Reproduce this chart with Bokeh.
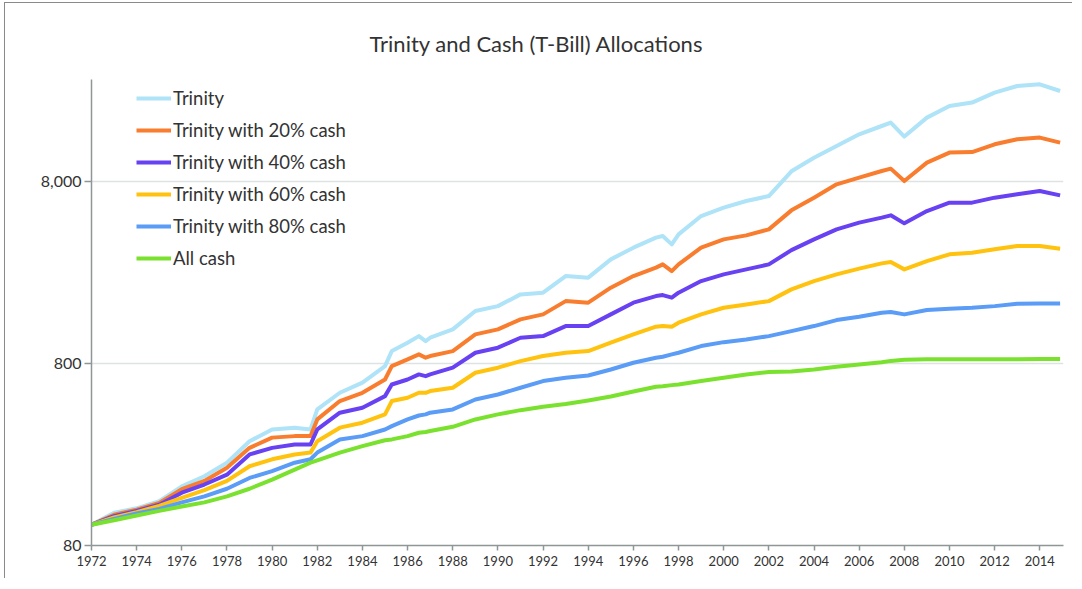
from bokeh.plotting import figure
from bokeh.models import FixedTicker, Range1d
from bokeh.embed import file_html
from bokeh.resources import INLINE

# ---- data ----
years = [1972, 1973, 1974, 1975, 1976, 1977, 1978, 1979, 1980, 1981, 1981.7,
         1982, 1983, 1984, 1985, 1985.3, 1986, 1986.5, 1986.8, 1987, 1988,
         1989, 1990, 1991, 1992, 1993, 1994, 1995, 1996, 1997, 1997.3, 1997.7,
         1998, 1999, 2000, 2001, 2002, 2003, 2004, 2005, 2006, 2007, 2007.4,
         2008, 2009, 2010, 2011, 2012, 2013, 2014, 2014.9]

trinity = [104, 121, 128, 140, 169, 192, 228, 299, 347, 355, 347,
           447, 552, 627, 773, 935, 1039, 1130, 1061, 1107, 1230,
           1551, 1651, 1915, 1957, 2414, 2366, 2983, 3458, 3925, 4005, 3605,
           4092, 5158, 5736, 6237, 6642, 9079, 10792, 12503, 14503, 16107, 16817,
           14091, 17911, 20746, 21655, 24573, 26709, 27296, 25081]

cash20 = [104, 118, 126, 137, 163, 181, 214, 275, 313, 319, 319,
          394, 497, 552, 653, 773, 842, 897, 860, 878, 935,
          1155, 1230, 1396, 1487, 1759, 1724, 2085, 2414, 2686, 2799, 2572,
          2799, 3458, 3841, 4040, 4359, 5543, 6509, 7702, 8384, 9114, 9393,
          8029, 10133, 11503, 11591, 12779, 13618, 13913, 13058]

cash40 = [104, 116, 124, 134, 156, 173, 196, 253, 275, 287, 287,
          347, 429, 457, 529, 613, 653, 696, 681, 696, 758,
          916, 976, 1107, 1130, 1283, 1283, 1487, 1724, 1875, 1898, 1837,
          1957, 2266, 2466, 2628, 2799, 3351, 3841, 4359, 4745, 5054, 5204,
          4703, 5495, 6110, 6110, 6509, 6787, 7077, 6701]

cash60 = [104, 114, 122, 132, 146, 161, 181, 218, 238, 253, 259,
          299, 355, 378, 420, 497, 518, 552, 552, 564, 588,
          711, 758, 824, 878, 916, 935, 1039, 1155, 1273, 1283, 1273,
          1339, 1487, 1618, 1687, 1759, 2041, 2266, 2466, 2651, 2835, 2882,
          2628, 2919, 3177, 3246, 3385, 3529, 3529, 3414]

cash80 = [104, 112, 120, 127, 138, 149, 164, 188, 205, 228, 238,
          259, 306, 319, 347, 362, 394, 414, 420, 429, 447,
          507, 540, 588, 640, 668, 687, 741, 807, 860, 871, 897,
          916, 996, 1047, 1084, 1130, 1204, 1283, 1384, 1445, 1520, 1531,
          1487, 1571, 1598, 1618, 1651, 1702, 1709, 1709]

all_cash = [104, 110, 117, 124, 131, 138, 149, 164, 184, 209, 228,
            235, 259, 281, 303, 306, 319, 333, 336, 340, 359,
            394, 420, 443, 463, 479, 501, 527, 561, 596, 600, 608,
            613, 640, 668, 696, 717, 723, 741, 767, 790, 813, 826,
            838, 842, 842, 843, 844, 844, 845, 845]

series_names = ["Trinity", "Trinity with 20% cash", "Trinity with 40% cash",
                "Trinity with 60% cash", "Trinity with 80% cash", "All cash"]
series_values = [trinity, cash20, cash40, cash60, cash80, all_cash]
series_colors = ["#AEE3F8", "#F97D2E", "#6741F2", "#FFC20E", "#5A9CF6", "#7AE22E"]

x_ticks = list(range(1972, 2015, 2))
x_tick_labels = [str(t) for t in x_ticks]
y_ticks = [80, 800, 8000]
y_tick_labels = ["80", "800", "8,000"]

TEXT = "#333333"
FONT = "Lato"

p = figure(width=1068, height=576, y_axis_type="log",
           x_range=Range1d(1972, 2015.05), y_range=Range1d(80, 29000),
           output_backend="svg", toolbar_location=None,
           min_border_left=86, min_border_right=10, min_border_top=76,
           min_border_bottom=34,
           title="Trinity and Cash (T-Bill) Allocations")
p.margin = (2, 0, 0, 4)
p.styles = {"border-top": "1px solid #8a8a8a", "border-left": "1px solid #8a8a8a"}

p.title.align = "left"
p.title.text_font = FONT
p.title.text_font_size = "22px"
p.title.text_font_style = "normal"
p.title.text_color = TEXT
p.title.offset = 278
p.title.standoff = 46

p.outline_line_color = None
p.background_fill_color = "white"
p.border_fill_color = "white"

for name, vals, col in zip(series_names, series_values, series_colors):
    p.line(years, vals, line_color=col, line_width=4, legend_label=name,
           line_join="round")

# axes
p.xaxis.ticker = FixedTicker(ticks=x_ticks)
p.xaxis.major_label_overrides = {t: l for t, l in zip(x_ticks, x_tick_labels)}
p.yaxis.ticker = FixedTicker(ticks=y_ticks)
p.yaxis.major_label_overrides = {t: l for t, l in zip(y_ticks, y_tick_labels)}

for ax in (p.xaxis[0], p.yaxis[0]):
    ax.axis_line_color = "#8e9696"
    ax.axis_line_width = 1.5
    ax.major_tick_line_color = "#8e9696"
    ax.major_tick_line_width = 1.5
    ax.major_tick_in = 0
    ax.minor_tick_line_color = None
    ax.major_label_text_font = FONT
    ax.major_label_text_color = TEXT

p.xaxis.major_tick_out = 5
p.xaxis.major_label_text_font_size = "13px"
p.xaxis.major_label_standoff = 5
p.yaxis.major_tick_out = 7
p.yaxis.major_label_text_font_size = "16px"
p.yaxis.major_label_standoff = 3

p.xgrid.visible = False
p.ygrid.grid_line_color = "#dde2e2"
p.ygrid.grid_line_width = 1.5

# legend
lg = p.legend[0]
lg.location = (45, 271)
lg.margin = 0
lg.padding = 0
lg.border_line_color = None
lg.background_fill_alpha = 0
lg.label_text_font = FONT
lg.label_text_font_size = "18.5px"
lg.label_text_color = TEXT
lg.label_height = 32
lg.glyph_height = 32
lg.glyph_width = 35
lg.spacing = 0
lg.label_standoff = 2

open("out.html", "w").write(file_html(p, INLINE))
